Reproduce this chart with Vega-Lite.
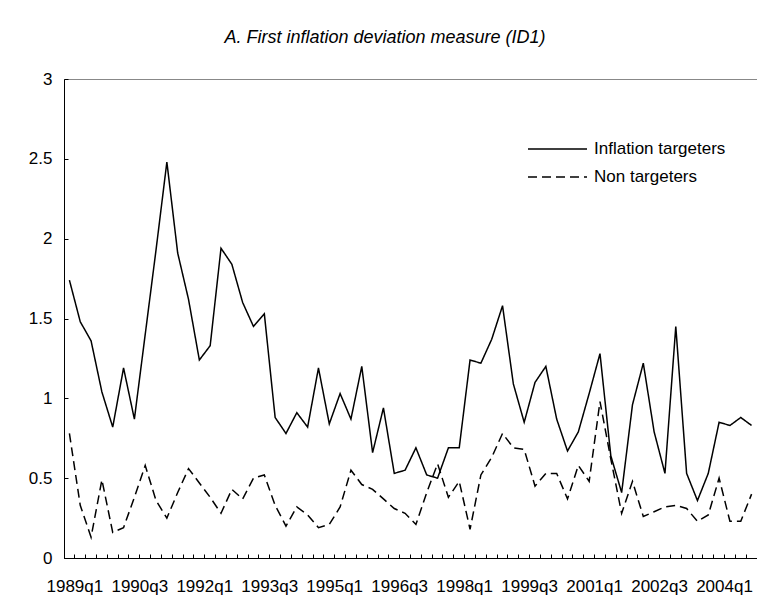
{
  "$schema": "https://vega.github.io/schema/vega-lite/v6.json",
  "width": 693,
  "height": 479,
  "autosize": {"type": "none"},
  "padding": {"left": 64, "top": 79, "right": 0, "bottom": 56},
  "background": "white",
  "title": {
    "text": "A. First inflation deviation measure (ID1)",
    "anchor": "middle",
    "dx": -25.5,
    "offset": 23,
    "font": "Liberation Sans",
    "fontSize": 18,
    "fontStyle": "italic",
    "fontWeight": "normal",
    "color": "black"
  },
  "data": {
    "values": [
      {"q": "1989q1", "Inflation targeters": 1.74, "Non targeters": 0.78},
      {"q": "1989q2", "Inflation targeters": 1.48, "Non targeters": 0.33},
      {"q": "1989q3", "Inflation targeters": 1.36, "Non targeters": 0.13},
      {"q": "1989q4", "Inflation targeters": 1.04, "Non targeters": 0.49},
      {"q": "1990q1", "Inflation targeters": 0.82, "Non targeters": 0.16},
      {"q": "1990q2", "Inflation targeters": 1.19, "Non targeters": 0.19},
      {"q": "1990q3", "Inflation targeters": 0.87, "Non targeters": 0.38},
      {"q": "1990q4", "Inflation targeters": 1.40, "Non targeters": 0.58},
      {"q": "1991q1", "Inflation targeters": 1.93, "Non targeters": 0.36},
      {"q": "1991q2", "Inflation targeters": 2.48, "Non targeters": 0.25},
      {"q": "1991q3", "Inflation targeters": 1.91, "Non targeters": 0.41},
      {"q": "1991q4", "Inflation targeters": 1.62, "Non targeters": 0.56},
      {"q": "1992q1", "Inflation targeters": 1.24, "Non targeters": 0.47},
      {"q": "1992q2", "Inflation targeters": 1.33, "Non targeters": 0.38},
      {"q": "1992q3", "Inflation targeters": 1.94, "Non targeters": 0.28},
      {"q": "1992q4", "Inflation targeters": 1.84, "Non targeters": 0.43},
      {"q": "1993q1", "Inflation targeters": 1.60, "Non targeters": 0.37},
      {"q": "1993q2", "Inflation targeters": 1.45, "Non targeters": 0.50},
      {"q": "1993q3", "Inflation targeters": 1.53, "Non targeters": 0.52},
      {"q": "1993q4", "Inflation targeters": 0.88, "Non targeters": 0.33},
      {"q": "1994q1", "Inflation targeters": 0.78, "Non targeters": 0.20},
      {"q": "1994q2", "Inflation targeters": 0.91, "Non targeters": 0.32},
      {"q": "1994q3", "Inflation targeters": 0.82, "Non targeters": 0.27},
      {"q": "1994q4", "Inflation targeters": 1.19, "Non targeters": 0.19},
      {"q": "1995q1", "Inflation targeters": 0.84, "Non targeters": 0.21},
      {"q": "1995q2", "Inflation targeters": 1.03, "Non targeters": 0.32},
      {"q": "1995q3", "Inflation targeters": 0.87, "Non targeters": 0.55},
      {"q": "1995q4", "Inflation targeters": 1.20, "Non targeters": 0.46},
      {"q": "1996q1", "Inflation targeters": 0.66, "Non targeters": 0.43},
      {"q": "1996q2", "Inflation targeters": 0.94, "Non targeters": 0.37},
      {"q": "1996q3", "Inflation targeters": 0.53, "Non targeters": 0.31},
      {"q": "1996q4", "Inflation targeters": 0.55, "Non targeters": 0.28},
      {"q": "1997q1", "Inflation targeters": 0.69, "Non targeters": 0.21},
      {"q": "1997q2", "Inflation targeters": 0.52, "Non targeters": 0.41},
      {"q": "1997q3", "Inflation targeters": 0.50, "Non targeters": 0.59},
      {"q": "1997q4", "Inflation targeters": 0.69, "Non targeters": 0.38},
      {"q": "1998q1", "Inflation targeters": 0.69, "Non targeters": 0.48},
      {"q": "1998q2", "Inflation targeters": 1.24, "Non targeters": 0.18},
      {"q": "1998q3", "Inflation targeters": 1.22, "Non targeters": 0.52},
      {"q": "1998q4", "Inflation targeters": 1.37, "Non targeters": 0.63},
      {"q": "1999q1", "Inflation targeters": 1.58, "Non targeters": 0.78},
      {"q": "1999q2", "Inflation targeters": 1.09, "Non targeters": 0.69},
      {"q": "1999q3", "Inflation targeters": 0.85, "Non targeters": 0.68},
      {"q": "1999q4", "Inflation targeters": 1.10, "Non targeters": 0.45},
      {"q": "2000q1", "Inflation targeters": 1.20, "Non targeters": 0.53},
      {"q": "2000q2", "Inflation targeters": 0.87, "Non targeters": 0.53},
      {"q": "2000q3", "Inflation targeters": 0.67, "Non targeters": 0.37},
      {"q": "2000q4", "Inflation targeters": 0.79, "Non targeters": 0.58},
      {"q": "2001q1", "Inflation targeters": 1.03, "Non targeters": 0.48},
      {"q": "2001q2", "Inflation targeters": 1.28, "Non targeters": 0.98},
      {"q": "2001q3", "Inflation targeters": 0.64, "Non targeters": 0.62},
      {"q": "2001q4", "Inflation targeters": 0.41, "Non targeters": 0.28},
      {"q": "2002q1", "Inflation targeters": 0.96, "Non targeters": 0.48},
      {"q": "2002q2", "Inflation targeters": 1.22, "Non targeters": 0.26},
      {"q": "2002q3", "Inflation targeters": 0.79, "Non targeters": 0.29},
      {"q": "2002q4", "Inflation targeters": 0.53, "Non targeters": 0.32},
      {"q": "2003q1", "Inflation targeters": 1.45, "Non targeters": 0.33},
      {"q": "2003q2", "Inflation targeters": 0.53, "Non targeters": 0.31},
      {"q": "2003q3", "Inflation targeters": 0.36, "Non targeters": 0.23},
      {"q": "2003q4", "Inflation targeters": 0.53, "Non targeters": 0.27},
      {"q": "2004q1", "Inflation targeters": 0.85, "Non targeters": 0.50},
      {"q": "2004q2", "Inflation targeters": 0.83, "Non targeters": 0.23},
      {"q": "2004q3", "Inflation targeters": 0.88, "Non targeters": 0.23},
      {"q": "2004q4", "Inflation targeters": 0.83, "Non targeters": 0.40}
    ]
  },
  "transform": [
    {"fold": ["Inflation targeters", "Non targeters"], "as": ["series", "value"]}
  ],
  "layer": [
    {
      "mark": {"type": "line", "color": "black", "strokeWidth": 1.5},
      "encoding": {
        "x": {
          "field": "q",
          "type": "ordinal",
          "sort": null,
          "scale": {"type": "band", "paddingInner": 0, "paddingOuter": 0},
          "axis": {
            "orient": "bottom",
            "title": null,
            "bandPosition": 0,
            "labelOffset": 5.414,
            "labelAngle": 0,
            "ticks": false,
            "labelPadding": 20,
            "labelOverlap": false,
            "labelFlush": false,
            "labelExpr": "indexof(['1989q1','1990q3','1992q1','1993q3','1995q1','1996q3','1998q1','1999q3','2001q1','2002q3','2004q1'], datum.value) >= 0 ? datum.value : ''",
            "labelFont": "Liberation Sans",
            "labelFontSize": 17,
            "labelColor": "black",
            "domainColor": "black",
            "grid": false
          }
        },
        "y": {
          "field": "value",
          "type": "quantitative",
          "scale": {"domain": [0, 3], "nice": false, "zero": true},
          "axis": {
            "orient": "left",
            "title": null,
            "values": [0, 0.5, 1, 1.5, 2, 2.5, 3],
            "format": "~g",
            "ticks": false,
            "labelPadding": 12,
            "labelFont": "Liberation Sans",
            "labelFontSize": 17,
            "labelColor": "black",
            "domainColor": "black",
            "grid": true,
            "gridColor": "black",
            "gridOpacity": 1,
            "gridWidth": 1,
            "gridDash": [4, 2000]
          }
        },
        "strokeDash": {
          "field": "series",
          "type": "nominal",
          "scale": {"domain": ["Inflation targeters", "Non targeters"], "range": [[1, 0], [9, 5]]},
          "legend": {
            "title": null,
            "orient": "none",
            "legendX": 463,
            "legendY": 60,
            "symbolType": "stroke",
            "symbolSize": 3481,
            "symbolStrokeWidth": 1.5,
            "symbolStrokeColor": "black",
            "clipHeight": 20,
            "rowPadding": 8,
            "labelOffset": 6,
            "padding": 0,
            "labelFont": "Liberation Sans",
            "labelFontSize": 17,
            "labelColor": "black"
          }
        }
      }
    },
    {
      "mark": {"type": "line", "color": "black", "strokeOpacity": 0},
      "encoding": {
        "x": {
          "field": "q",
          "type": "ordinal",
          "sort": null,
          "scale": {"type": "band", "paddingInner": 0, "paddingOuter": 0},
          "axis": {
            "orient": "bottom",
            "title": null,
            "bandPosition": 0,
            "offset": -4,
            "domain": false,
            "labels": false,
            "ticks": true,
            "tickSize": 4,
            "tickWidth": 1,
            "tickColor": "black",
            "grid": false
          }
        },
        "y": {
          "field": "value",
          "type": "quantitative",
          "scale": {"domain": [0, 3], "nice": false, "zero": true},
          "axis": null
        },
        "detail": {"field": "series", "type": "nominal"}
      }
    }
  ],
  "resolve": {"axis": {"x": "independent", "y": "independent"}},
  "config": {
    "view": {"stroke": "#888888", "strokeWidth": 1}
  }
}
